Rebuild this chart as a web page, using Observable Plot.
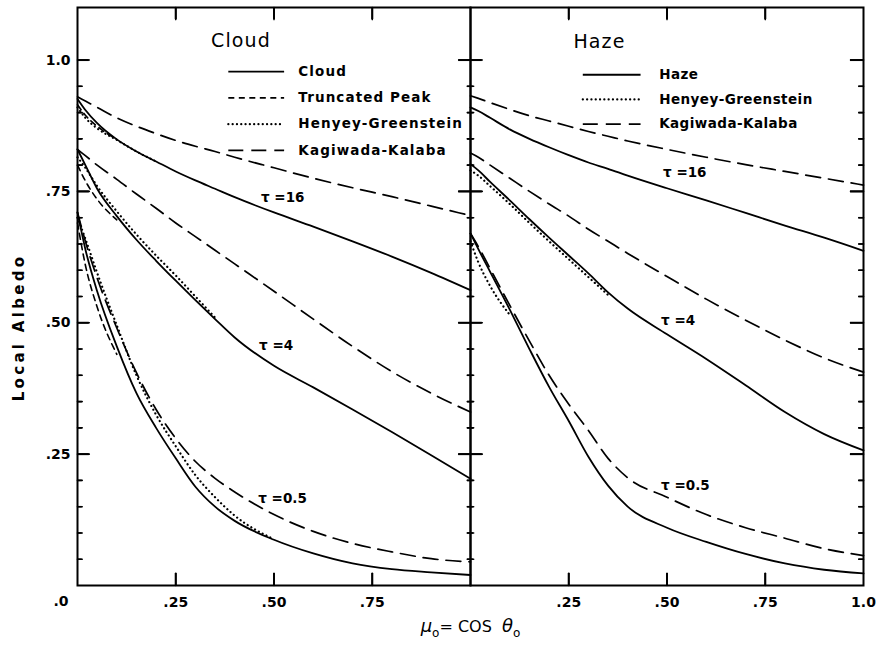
<!DOCTYPE html>
<html>
<head>
<meta charset="utf-8">
<script src="https://cdn.jsdelivr.net/npm/d3@7"></script>
<script src="https://cdn.jsdelivr.net/npm/@observablehq/plot@0.6"></script>
<style>
  html, body { margin: 0; padding: 0; background: #fff; }
  #chart svg { display: block; }
</style>
</head>
<body>
<div id="chart"></div>
<script>
// ---------------- data ----------------
const panels = ["Cloud", "Haze"];
const mu = [0, 0.02, 0.05, 0.1, 0.15, 0.2, 0.25, 0.3, 0.35, 0.4, 0.5, 0.6, 0.7, 0.8, 0.9, 1.0];

// Cloud panel (solid = Cloud phase function, TP = Truncated Peak, HG = Henyey-Greenstein, KK = Kagiwada-Kalaba)
const cloudTau16   = [0.926, 0.905, 0.880, 0.849, 0.826, 0.807, 0.788, 0.771, 0.755, 0.739, 0.710, 0.683, 0.655, 0.626, 0.595, 0.562];
const cloudTau16TP = [0.915, 0.895, 0.874, 0.849, null, null, null, null, null, null, null, null, null, null, null, null];
const cloudTau16HG = [0.910, 0.890, 0.870, 0.848, 0.826, 0.807, null, null, null, null, null, null, null, null, null, null];
const cloudTau16KK = [0.930, 0.922, 0.910, 0.890, 0.874, 0.860, 0.847, 0.836, 0.826, 0.815, 0.795, 0.775, 0.757, 0.740, 0.722, 0.704];

const cloudTau4    = [0.830, 0.800, 0.755, 0.703, 0.658, 0.618, 0.580, 0.543, 0.507, 0.472, 0.418, 0.377, 0.335, 0.292, 0.248, 0.203];
const cloudTau4TP  = [0.800, 0.770, 0.735, 0.696, null, null, null, null, null, null, null, null, null, null, null, null];
const cloudTau4HG  = [0.815, 0.795, 0.760, 0.712, 0.668, 0.628, 0.590, 0.550, 0.510, null, null, null, null, null, null, null];
const cloudTau4KK  = [0.830, 0.818, 0.800, 0.773, 0.745, 0.718, 0.690, 0.664, 0.638, 0.612, 0.560, 0.507, 0.455, 0.407, 0.366, 0.330];

const cloudTau05   = [0.710, 0.640, 0.560, 0.455, 0.366, 0.300, 0.242, 0.188, 0.150, 0.123, 0.087, 0.061, 0.042, 0.031, 0.025, 0.020];
const cloudTau05TP = [0.690, 0.610, 0.530, 0.440, null, null, null, null, null, null, null, null, null, null, null, null];
const cloudTau05HG = [0.700, 0.660, 0.595, 0.495, 0.400, 0.325, 0.265, 0.210, 0.168, 0.133, 0.088, null, null, null, null, null];
const cloudTau05KK = [0.710, 0.655, 0.585, 0.490, 0.405, 0.335, 0.280, 0.236, 0.204, 0.178, 0.135, 0.103, 0.080, 0.064, 0.051, 0.045];

// Haze panel
const hazeTau16    = [0.910, 0.903, 0.890, 0.868, 0.850, 0.834, 0.819, 0.805, 0.793, 0.780, 0.756, 0.733, 0.709, 0.685, 0.662, 0.637];
const hazeTau16KK  = [0.932, 0.927, 0.919, 0.906, 0.894, 0.884, 0.874, 0.864, 0.855, 0.846, 0.830, 0.815, 0.801, 0.788, 0.775, 0.762];

const hazeTau4     = [0.802, 0.790, 0.768, 0.733, 0.697, 0.662, 0.628, 0.594, 0.558, 0.527, 0.478, 0.431, 0.381, 0.330, 0.288, 0.257];
const hazeTau4HG   = [0.790, 0.780, 0.760, 0.726, 0.690, 0.655, 0.621, 0.587, 0.553, null, null, null, null, null, null, null];
const hazeTau4KK   = [0.823, 0.815, 0.800, 0.775, 0.750, 0.726, 0.703, 0.678, 0.655, 0.632, 0.588, 0.545, 0.505, 0.467, 0.433, 0.406];

const hazeTau05    = [0.670, 0.640, 0.597, 0.525, 0.450, 0.378, 0.313, 0.245, 0.190, 0.150, 0.110, 0.083, 0.060, 0.042, 0.030, 0.023];
const hazeTau05HG  = [0.655, 0.615, 0.570, 0.515, null, null, null, null, null, null, null, null, null, null, null, null];
const hazeTau05KK  = [0.670, 0.645, 0.603, 0.533, 0.465, 0.400, 0.345, 0.295, 0.242, 0.205, 0.168, 0.135, 0.110, 0.090, 0.070, 0.057];

// legends, annotations, ticks
const cloudLegend = ["Cloud", "Truncated Peak", "Henyey-Greenstein", "Kagiwada-Kalaba"];
const cloudLegendModels = ["solid", "TP", "HG", "KK"];
const hazeLegend = ["Haze", "Henyey-Greenstein", "Kagiwada-Kalaba"];
const hazeLegendModels = ["solid", "HG", "KK"];
const tauLabels = ["τ =16", "τ =4", "τ =0.5"];
const yTickValues = [0.25, 0.5, 0.75, 1.0];
const yTickLabels = [".25", ".50", ".75", "1.0"];
const yMinorValues = [0.05, 0.1, 0.15, 0.2, 0.3, 0.35, 0.4, 0.45, 0.55, 0.6, 0.65, 0.7, 0.8, 0.85, 0.9, 0.95];
const xTickValues = [0.25, 0.5, 0.75];
const cloudXTickLabels = [".25", ".50", ".75"];
const hazeXTickValues = [0.25, 0.5, 0.75, 1.0];
const hazeXTickLabels = [".25", ".50", ".75", "1.0"];
const zeroLabel = ".0";
const yLabel = "Local Albedo";
const xLabelParts = [["μ", "var"], ["o", "sub"], ["= COS  ", ""], ["θ", "var"], ["o", "sub"]];

// ---------------- geometry & styles ----------------
const CW = 876, CH = 654;
const mLeft = 76, mRight = 13, mTop = 7, mBottom = 69;
const Y_MAX = 1.1;
// tick lengths expressed in data units of one panel (x: ~394 px per unit, y: ~525 px per unit)
const TICK_Y_MAJOR = 0.030, TICK_Y_MINOR = 0.012, TICK_Y_CROSS_MINOR = 0.008, TICK_Y_RIGHT = 0.033;
const TICK_X = 0.023;
const FONT = "DejaVu Sans";
const styles = {
  solid: {strokeWidth: 1.8},
  TP: {strokeWidth: 1.6, strokeDasharray: "6,4.5"},
  HG: {strokeWidth: 2.2, strokeDasharray: "0.1,4.2", strokeLinecap: "round"},
  KK: {strokeWidth: 1.7, strokeDasharray: "15,8"}
};

// ---------------- build tables ----------------
function series(panel, tau, model, values) {
  return values.map((v, i) => ({panel, tau, model, mu: mu[i], albedo: v}));
}
const curves = [
  ...series("Cloud", "16", "solid", cloudTau16), ...series("Cloud", "16", "TP", cloudTau16TP),
  ...series("Cloud", "16", "HG", cloudTau16HG), ...series("Cloud", "16", "KK", cloudTau16KK),
  ...series("Cloud", "4", "solid", cloudTau4), ...series("Cloud", "4", "TP", cloudTau4TP),
  ...series("Cloud", "4", "HG", cloudTau4HG), ...series("Cloud", "4", "KK", cloudTau4KK),
  ...series("Cloud", "0.5", "solid", cloudTau05), ...series("Cloud", "0.5", "TP", cloudTau05TP),
  ...series("Cloud", "0.5", "HG", cloudTau05HG), ...series("Cloud", "0.5", "KK", cloudTau05KK),
  ...series("Haze", "16", "solid", hazeTau16), ...series("Haze", "16", "KK", hazeTau16KK),
  ...series("Haze", "4", "solid", hazeTau4), ...series("Haze", "4", "HG", hazeTau4HG),
  ...series("Haze", "4", "KK", hazeTau4KK),
  ...series("Haze", "0.5", "solid", hazeTau05), ...series("Haze", "0.5", "HG", hazeTau05HG),
  ...series("Haze", "0.5", "KK", hazeTau05KK)
];

// tick tables
const yTickRows = [];
function addYTicks(panel, values, side, len, major) {
  for (const v of values) {
    yTickRows.push({panel, y: v, major,
      x1: side === "left" ? 0 : 1 - len, x2: side === "left" ? len : 1});
  }
}
addYTicks("Cloud", yTickValues, "left", TICK_Y_MAJOR, true);
addYTicks("Cloud", yMinorValues, "left", TICK_Y_MINOR, false);
addYTicks("Cloud", yTickValues, "right", TICK_Y_MAJOR, true);
addYTicks("Cloud", yMinorValues, "right", TICK_Y_CROSS_MINOR, false);
addYTicks("Haze", yTickValues, "left", TICK_Y_MAJOR, true);
addYTicks("Haze", yMinorValues, "left", TICK_Y_CROSS_MINOR, false);
addYTicks("Haze", yTickValues, "right", TICK_Y_RIGHT, true);
addYTicks("Haze", yMinorValues, "right", TICK_Y_MINOR, false);
const xTickRows = [];
for (const p of panels) {
  for (const v of xTickValues) {
    xTickRows.push({panel: p, x: v, y1: 0, y2: TICK_X});
    xTickRows.push({panel: p, x: v, y1: Y_MAX - TICK_X, y2: Y_MAX});
  }
}
// the same ticks as 2-point strokes
const tickSegs = [];
yTickRows.forEach((d, i) => {
  const tau = "ty" + i;
  tickSegs.push({panel: d.panel, tau, mu: d.x1, albedo: d.y}, {panel: d.panel, tau, mu: d.x2, albedo: d.y});
});
xTickRows.forEach((d, i) => {
  const tau = "tx" + i;
  tickSegs.push({panel: d.panel, tau, mu: d.x, albedo: d.y1}, {panel: d.panel, tau, mu: d.x, albedo: d.y2});
});

// layout (positions in data units of each panel)
const legendLayout = {
  Cloud: {x1: 0.385, x2: 0.527, tx: 0.562, top: 0.978, step: 0.050, titleX: 0.34, titleY: 1.037, ls: "1.1px"},
  Haze:  {x1: 0.287, x2: 0.434, tx: 0.480, top: 0.972, step: 0.047, titleX: 0.262, titleY: 1.035, ls: "0.45px"}
};
const legendRows = [
  ...cloudLegend.map((label, i) => ({panel: "Cloud", label, model: cloudLegendModels[i], i})),
  ...hazeLegend.map((label, i) => ({panel: "Haze", label, model: hazeLegendModels[i], i}))
].map(d => {
  const L = legendLayout[d.panel];
  return {...d, y: L.top - d.i * L.step, x1: L.x1, x2: L.x2, tx: L.tx};
});
const titles = panels.map(p => ({panel: p, label: p, x: legendLayout[p].titleX, y: legendLayout[p].titleY}));

const tauLabelAt = [
  {panel: "Cloud", k: 0, x: 0.467, y: 0.738}, {panel: "Cloud", k: 1, x: 0.462, y: 0.457},
  {panel: "Cloud", k: 2, x: 0.460, y: 0.166},
  {panel: "Haze", k: 0, x: 0.490, y: 0.786}, {panel: "Haze", k: 1, x: 0.485, y: 0.504},
  {panel: "Haze", k: 2, x: 0.485, y: 0.190}
].map(d => ({...d, label: tauLabels[d.k]}));

const yLabelRows = yTickValues.map((v, i) => ({panel: "Cloud", y: v, label: yTickLabels[i]}));
const xLabelRows = [
  ...xTickValues.map((v, i) => ({panel: "Cloud", x: v, label: cloudXTickLabels[i]})),
  ...hazeXTickValues.map((v, i) => ({panel: "Haze", x: v, label: hazeXTickLabels[i]}))
];

// ---------------- marks ----------------
const marks = [];
marks.push(Plot.frame({stroke: "#000", strokeWidth: 2}));
for (const m of ["solid", "TP", "HG", "KK"]) {
  marks.push(Plot.line(curves.filter(d => d.model === m), {
    fx: "panel", x: "mu", y: "albedo", z: "tau", stroke: "#000", curve: "monotone-x", ...styles[m]
  }));
  marks.push(Plot.ruleY(legendRows.filter(d => d.model === m), {
    fx: "panel", y: "y", x1: "x1", x2: "x2", stroke: "#000", ...styles[m]
  }));
}

// tick labels
const tickFont = {fontFamily: FONT, fontWeight: "bold", fontSize: 14, fill: "#000"};
marks.push(Plot.text(yLabelRows, {
  fx: "panel", y: "y", text: "label", frameAnchor: "left", textAnchor: "end", dx: -7, ...tickFont
}));
marks.push(Plot.text(xLabelRows, {
  fx: "panel", x: "x", text: "label", frameAnchor: "bottom", dy: 21, ...tickFont
}));
marks.push(Plot.text([{panel: "Cloud", x: 0, label: zeroLabel}], {
  fx: "panel", x: "x", text: "label", frameAnchor: "bottom", textAnchor: "end", dx: -9, dy: 20, ...tickFont
}));
// axis titles
marks.push(Plot.text([{panel: "Cloud", label: yLabel}], {
  fx: "panel", text: "label", frameAnchor: "left", textAnchor: "middle", rotate: -90, dx: -58, dy: 31,
  fontFamily: FONT, fontWeight: "bold", fontSize: 15, fill: "#000"
}));
marks.push(Plot.text([{panel: "Haze", x: 0, label: "XLABEL"}], {
  fx: "panel", x: "x", text: "label", frameAnchor: "bottom", dy: 46,
  fontFamily: FONT, fontSize: 16, fill: "#000"
}));
// panel titles and legend texts
marks.push(Plot.text(titles, {
  fx: "panel", x: "x", y: "y", text: "label", textAnchor: "start",
  fontFamily: FONT, fontSize: 19, fill: "#000"
}));
for (const p of panels) {
  marks.push(Plot.text(legendRows.filter(d => d.panel === p), {
    fx: "panel", x: "tx", y: "y", text: "label", textAnchor: "start",
    fontFamily: FONT, fontWeight: "bold", fontSize: 13.5, fill: "#000"
  }));
}
// tau labels
marks.push(Plot.text(tauLabelAt, {
  fx: "panel", x: "x", y: "y", text: "label", textAnchor: "start",
  fontFamily: FONT, fontWeight: "bold", fontSize: 13.5, fill: "#000"
}));
// ticks last (rules and, redundantly, strokes)
marks.push(Plot.ruleY(yTickRows.filter(d => d.major), {fx: "panel", y: "y", x1: "x1", x2: "x2", stroke: "#000", strokeWidth: 2}));
marks.push(Plot.ruleY(yTickRows.filter(d => !d.major), {fx: "panel", y: "y", x1: "x1", x2: "x2", stroke: "#000", strokeWidth: 1.5}));
marks.push(Plot.ruleX(xTickRows, {fx: "panel", x: "x", y1: "y1", y2: "y2", stroke: "#000", strokeWidth: 2}));
marks.push(Plot.line(tickSegs, {fx: "panel", x: "mu", y: "albedo", z: "tau", stroke: "#000", strokeWidth: 1.6, curve: "linear"}));

const chart = Plot.plot({
  width: CW, height: CH,
  marginLeft: mLeft, marginRight: mRight, marginTop: mTop, marginBottom: mBottom,
  style: {background: "#fff", fontFamily: FONT},
  fx: {domain: panels, padding: 0, axis: null, label: null},
  x: {domain: [0, 1], axis: null},
  y: {domain: [0, Y_MAX], axis: null},
  marks
});
document.getElementById("chart").appendChild(chart);

// letter spacing (the lettering of the original is widely spaced)
const textGroups = chart.querySelectorAll("g[aria-label='text']");
textGroups.forEach(g => {
  g.querySelectorAll("text").forEach(t => {
    const s = t.textContent;
    const fs = +(g.getAttribute("font-size") || 0);
    if (s === yLabel) t.setAttribute("letter-spacing", "3.3px");
    else if (fs >= 18 && panels.includes(s)) t.setAttribute("letter-spacing", "2px");
  });
});
// legend spacing per panel (legend text marks are the two marks just before the tau labels)
{
  const legendGroups = Array.from(textGroups).filter(g => {
    const texts = Array.from(g.querySelectorAll("text")).map(t => t.textContent);
    return texts.length > 0 && texts.every(s => cloudLegend.includes(s) || hazeLegend.includes(s)) && +(g.getAttribute("font-size") || 0) < 18;
  });
  legendGroups.forEach(g => {
    const texts = Array.from(g.querySelectorAll("text")).map(t => t.textContent);
    const isCloud = texts.includes("Truncated Peak") || texts.includes("Cloud");
    g.querySelectorAll("text").forEach(t => t.setAttribute("letter-spacing", isCloud ? legendLayout.Cloud.ls : legendLayout.Haze.ls));
  });
}

// rich x-axis label with subscripts
d3.select(chart).selectAll("text").filter(function () { return this.textContent === "XLABEL"; })
  .each(function () {
    const t = d3.select(this);
    t.text(null);
    let shifted = false;
    for (const [s, kind] of xLabelParts) {
      const ts = t.append("tspan").text(s);
      if (kind === "var") ts.attr("font-style", "italic").attr("font-size", 18);
      if (kind === "sub") { ts.attr("dy", 5).attr("font-size", 12); shifted = true; }
      else if (shifted) { ts.attr("dy", -5); shifted = false; }
    }
  });
</script>
</body>
</html>
